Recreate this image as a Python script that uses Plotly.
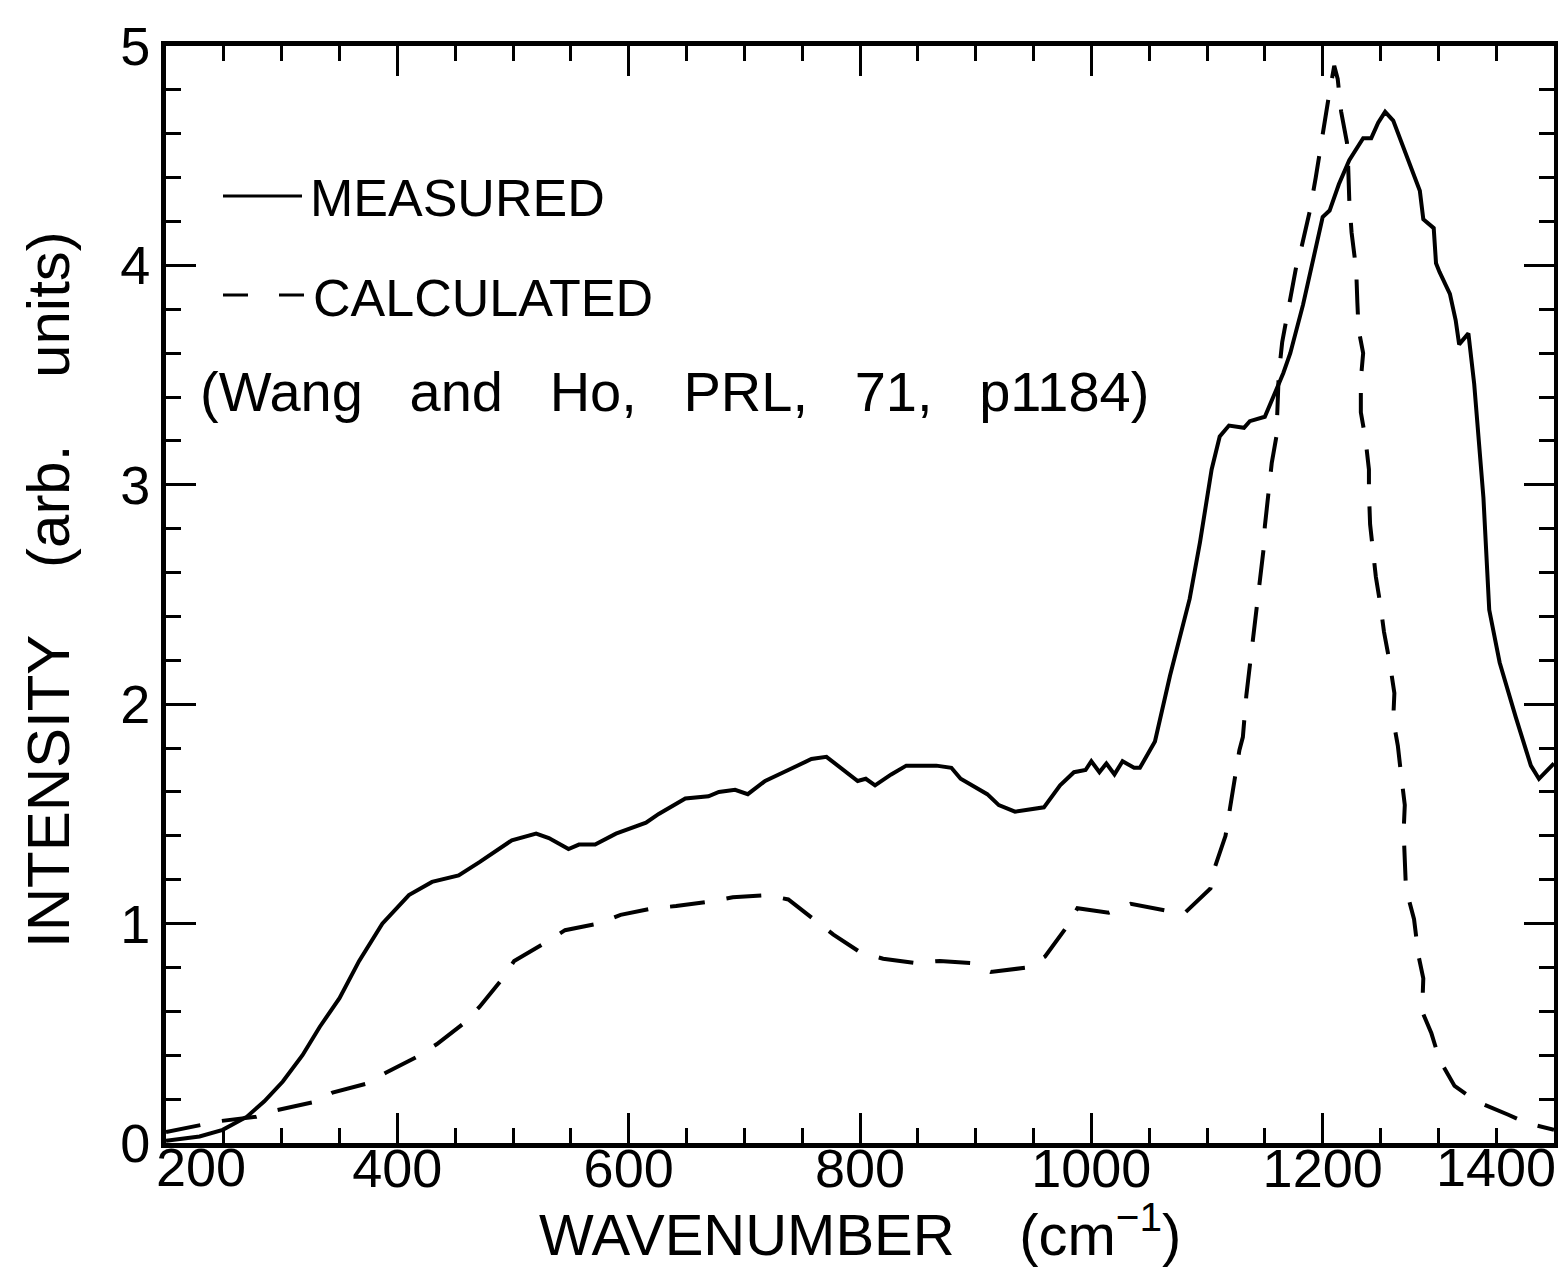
import plotly.graph_objects as go

# ---- data ----
measured_x = [200, 215, 229, 249, 270, 285, 301, 318, 333, 350, 367, 387, 410, 430, 453, 471, 499, 520, 531,
              548, 557, 571, 589, 615, 626, 649, 669, 678, 692, 703, 718, 738, 758, 771, 798, 805, 813, 827,
              840, 866, 879, 887, 910, 920, 934, 959, 973, 985, 995, 1000, 1007, 1013, 1020, 1027, 1037, 1042,
              1055, 1068, 1080, 1085, 1094, 1104, 1111, 1119, 1132, 1137, 1150, 1160, 1166, 1172, 1183, 1200,
              1206, 1214, 1223, 1235, 1242, 1248, 1254, 1261, 1272, 1284, 1287, 1296, 1298, 1301, 1310, 1315,
              1318, 1326, 1331, 1339, 1344, 1353, 1367, 1380, 1387, 1396, 1400]
measured_y = [0.01, 0.02, 0.03, 0.06, 0.12, 0.19, 0.28, 0.40, 0.53, 0.66, 0.83, 1.00, 1.13, 1.19, 1.22, 1.28, 1.38, 1.41, 1.39,
              1.34, 1.36, 1.36, 1.41, 1.46, 1.50, 1.57, 1.58, 1.60, 1.61, 1.59, 1.65, 1.70, 1.75, 1.76, 1.65, 1.66, 1.63, 1.68,
              1.72, 1.72, 1.71, 1.66, 1.59, 1.54, 1.51, 1.53, 1.63, 1.69, 1.70, 1.74, 1.69, 1.73, 1.68, 1.74, 1.71, 1.71,
              1.83, 2.13, 2.38, 2.48, 2.74, 3.07, 3.22, 3.27, 3.26, 3.29, 3.31, 3.43, 3.51, 3.60, 3.82, 4.22,
              4.25, 4.37, 4.48, 4.58, 4.58, 4.65, 4.70, 4.66, 4.51, 4.34, 4.21, 4.17, 4.01, 3.97, 3.87, 3.75,
              3.64, 3.69, 3.46, 2.94, 2.43, 2.19, 1.94, 1.72, 1.66, 1.71, 1.73]

calculated_x = [200, 228, 247, 278, 296, 331, 344, 373, 390, 416, 434, 456, 471, 491, 501, 527, 545, 574, 593, 621,
                641, 670, 690, 719, 738, 760, 777, 800, 820, 848, 869, 897, 913, 945, 960, 978, 988, 1015, 1034,
                1064, 1081, 1103, 1107, 1116, 1120, 1124, 1128, 1131, 1134, 1140, 1143, 1149, 1150, 1153, 1156,
                1160, 1162, 1165, 1170, 1177, 1182, 1189, 1194, 1197, 1201, 1205, 1210, 1213, 1216, 1221, 1222,
                1223, 1225, 1229, 1230, 1231, 1235, 1233, 1233, 1237, 1240, 1240, 1241, 1243, 1246, 1250, 1253,
                1258, 1262, 1261, 1265, 1268, 1271, 1270, 1271, 1272, 1279, 1283, 1287, 1286, 1294, 1301, 1314,
                1333, 1360, 1377, 1400]
calculated_y = [0.05, 0.08, 0.10, 0.12, 0.15, 0.19, 0.23, 0.27, 0.32, 0.39, 0.45, 0.54, 0.62, 0.75, 0.83, 0.91, 0.97, 1.00, 1.04, 1.07,
                1.08, 1.10, 1.12, 1.13, 1.11, 1.02, 0.95, 0.87, 0.84, 0.82, 0.83, 0.82, 0.78, 0.80, 0.85, 0.98, 1.07, 1.05, 1.09,
                1.06, 1.05, 1.16, 1.26, 1.40, 1.52, 1.66, 1.79, 1.85, 2.04, 2.30, 2.46, 2.71, 2.81, 2.97, 3.10,
                3.22, 3.50, 3.65, 3.80, 3.99, 4.09, 4.25, 4.40, 4.50, 4.65, 4.76, 4.91, 4.85, 4.70, 4.56, 4.46,
                4.30, 4.15, 3.98, 3.83, 3.71, 3.60, 3.48, 3.33, 3.21, 3.07, 2.97, 2.82, 2.71, 2.58, 2.45, 2.33,
                2.19, 2.05, 1.93, 1.81, 1.67, 1.54, 1.42, 1.28, 1.16, 1.02, 0.85, 0.75, 0.60, 0.50, 0.38, 0.26,
                0.19, 0.13, 0.09, 0.06]

x_tickvals = [200, 400, 600, 800, 1000, 1200, 1400]
x_ticktext = ["", "400", "600", "800", "1000", "1200", ""]
y_tickvals = [0, 1, 2, 3, 4, 5]
y_ticktext = ["0", "1", "2", "3", "4", "5"]

FONT = "Liberation Sans, Arial, sans-serif"
NB = "\u00a0"

fig = go.Figure()
fig.add_trace(go.Scatter(x=measured_x, y=measured_y, mode="lines",
                         line=dict(color="black", width=4), name="MEASURED"))
fig.add_trace(go.Scatter(x=calculated_x, y=calculated_y, mode="lines",
                         line=dict(color="black", width=4, dash="35px,22px"), name="CALCULATED"))

W, H = 1566, 1278
L, R, T, B = 158, 20, 38, 143
pw, ph = W - L - R, H - T - B


def px(xp):
    return (xp - L) / pw


def py(yp):
    return (H - B - yp) / ph


fig.update_layout(
    width=W, height=H,
    margin=dict(l=L, r=R, t=T, b=B, autoexpand=False),
    paper_bgcolor="white", plot_bgcolor="white",
    showlegend=False,
    font=dict(family=FONT, color="black", size=52),
    xaxis=dict(
        range=[200, 1400], tickmode="array", tickvals=x_tickvals, ticktext=x_ticktext,
        ticks="inside", ticklen=30, tickwidth=3, tickcolor="black",
        minor=dict(tick0=200, dtick=50, ticks="inside", ticklen=15, tickwidth=3, tickcolor="black"),
        showline=True, linewidth=5, linecolor="black", mirror="allticks",
        showgrid=False, zeroline=False, automargin=False,
        tickfont=dict(size=54), ticklabelstandoff=-26,
    ),
    yaxis=dict(
        range=[0, 5], tickmode="array", tickvals=y_tickvals, ticktext=y_ticktext,
        ticks="inside", ticklen=30, tickwidth=3, tickcolor="black",
        minor=dict(tick0=0, dtick=0.2, ticks="inside", ticklen=15, tickwidth=3, tickcolor="black"),
        showline=True, linewidth=5, linecolor="black", mirror="allticks",
        showgrid=False, zeroline=False, automargin=False,
        tickfont=dict(size=54),
    ),
)

# axis titles
fig.add_annotation(x=px(852), y=py(1222), xref="paper", yref="paper",
                   text="WAVENUMBER" + NB * 4 + "(cm<sup>\u22121</sup>)", showarrow=False,
                   xanchor="center", yanchor="middle", font=dict(size=58))
fig.add_annotation(x=px(40), y=py(582), xref="paper", yref="paper",
                   text="INTENSITY" + NB * 4 + "(arb." + NB * 4 + "units)", showarrow=False, textangle=-90,
                   xanchor="center", yanchor="middle", font=dict(size=60))

# end tick labels, pulled inward as in the reference
fig.add_annotation(x=200, y=0, xref="x", yref="y", text="200", showarrow=False,
                   xanchor="left", yanchor="top", xshift=-12, yshift=8, font=dict(size=54))
fig.add_annotation(x=1400, y=0, xref="x", yref="y", text="1400", showarrow=False,
                   xanchor="right", yanchor="top", xshift=4, yshift=8, font=dict(size=54))

# legend key
fig.add_shape(type="line", xref="paper", yref="paper", x0=px(215), x1=px(294), y0=py(188), y1=py(188),
              line=dict(color="black", width=3))
fig.add_shape(type="line", xref="paper", yref="paper", x0=px(215), x1=px(296), y0=py(287), y1=py(287),
              line=dict(color="black", width=3, dash="25px,31px"))
fig.add_annotation(x=px(300), y=py(190), xref="paper", yref="paper", text="MEASURED", showarrow=False,
                   xanchor="left", yanchor="middle", font=dict(size=52))
fig.add_annotation(x=px(303), y=py(290), xref="paper", yref="paper", text="CALCULATED", showarrow=False,
                   xanchor="left", yanchor="middle", font=dict(size=52))
fig.add_annotation(x=px(190), y=py(383), xref="paper", yref="paper",
                   text="(Wang" + NB * 3 + "and" + NB * 3 + "Ho," + NB * 3 + "PRL," + NB * 3 + "71," + NB * 3 + "p1184)",
                   showarrow=False, xanchor="left", yanchor="middle", font=dict(size=56))

fig.write_html("out.html")
